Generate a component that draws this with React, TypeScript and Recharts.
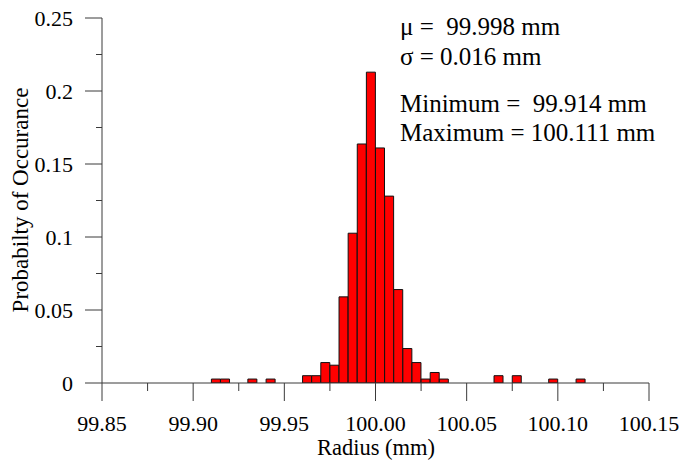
import React from 'react';
import { ComposedChart, Bar, XAxis, YAxis } from 'recharts';

// Histogram bin centres (bin width 0.005 mm) and probability of occurrence
const binCenters = [
  99.9125, 99.9175, 99.9325, 99.9425, 99.9625, 99.9675, 99.9725, 99.9775,
  99.9825, 99.9875, 99.9925, 99.9975, 100.0025, 100.0075, 100.0125, 100.0175,
  100.0225, 100.0275, 100.0325, 100.0375, 100.0675, 100.0775, 100.0975, 100.1125,
];
const probabilities = [
  0.0027, 0.0027, 0.0027, 0.0027, 0.005, 0.005, 0.014, 0.0122,
  0.059, 0.1026, 0.1637, 0.2129, 0.161, 0.128, 0.064, 0.0236,
  0.014, 0.0027, 0.0072, 0.0027, 0.005, 0.005, 0.0027, 0.0027,
];

const xTicks = [99.85, 99.875, 99.9, 99.925, 99.95, 99.975, 100, 100.025, 100.05, 100.075, 100.1, 100.125, 100.15];
const xTickLabels = ['99.85', '', '99.90', '', '99.95', '', '100.00', '', '100.05', '', '100.10', '', '100.15'];
const yTicks = [0, 0.025, 0.05, 0.075, 0.1, 0.125, 0.15, 0.175, 0.2, 0.225, 0.25];
const yTickLabels = ['0', '', '0.05', '', '0.1', '', '0.15', '', '0.2', '', '0.25'];

const statLines = ['μ =  99.998 mm', 'σ = 0.016 mm', 'Minimum =  99.914 mm', 'Maximum = 100.111 mm'];
const xTitle = 'Radius (mm)';
const yTitle = 'Probabilty of Occurance';

const data = binCenters.map((c, i) => ({ x: c, p: probabilities[i] }));

const FONT = '"Liberation Serif", "Times New Roman", serif';
const AXIS_COLOR = '#3a3a3a';

const findIndex = (arr: number[], v: number) => {
  let best = 0;
  for (let i = 0; i < arr.length; i++) {
    if (Math.abs(arr[i] - v) < Math.abs(arr[best] - v)) best = i;
  }
  return best;
};

const XTick = (props: any) => {
  const { x, y, payload } = props;
  const i = findIndex(xTicks, payload.value);
  const label = xTickLabels[i];
  const major = label !== '';
  return (
    <g>
      <line x1={x} x2={x} y1={y} y2={y + (major ? 18 : 8)} stroke={AXIS_COLOR} strokeWidth={1} />
      {major && (
        <text x={x} y={y + 48} textAnchor="middle" fontSize={22} fontFamily={FONT} fill="#000">
          {label}
        </text>
      )}
    </g>
  );
};

const YTick = (props: any) => {
  const { x, y, payload } = props;
  const i = findIndex(yTicks, payload.value);
  const label = yTickLabels[i];
  const major = label !== '';
  return (
    <g>
      <line x1={x - (major ? 17 : 6)} x2={x} y1={y} y2={y} stroke={AXIS_COLOR} strokeWidth={1} />
      {major && (
        <text x={x - 29} y={y + 7.5} textAnchor="end" fontSize={22} fontFamily={FONT} fill="#000">
          {label}
        </text>
      )}
    </g>
  );
};

export default function App() {
  return (
    <div style={{ position: 'absolute', left: 0, top: 0, width: 681, height: 462, background: '#fff' }}>
      <ComposedChart
        width={681}
        height={462}
        data={data}
        margin={{ top: 18, right: 32, bottom: 19, left: 0 }}
        barCategoryGap={0}
        barGap={0}
      >
        <XAxis
          dataKey="x"
          type="number"
          domain={[99.85, 100.15]}
          ticks={xTicks}
          interval={0}
          allowDataOverflow
          height={60}
          tickSize={0}
          tickMargin={0}
          tickLine={false}
          tick={<XTick />}
          axisLine={{ stroke: AXIS_COLOR, strokeWidth: 1 }}
        />
        <YAxis
          type="number"
          domain={[0, 0.25]}
          ticks={yTicks}
          interval={0}
          allowDataOverflow
          width={102}
          tickSize={0}
          tickMargin={0}
          tickLine={false}
          tick={<YTick />}
          axisLine={{ stroke: AXIS_COLOR, strokeWidth: 1 }}
        />
        <Bar dataKey="p" fill="#ff0000" stroke="#111" strokeWidth={1} isAnimationActive={false} />
      </ComposedChart>
      <svg
        width={681}
        height={462}
        style={{ position: 'absolute', left: 0, top: 0, pointerEvents: 'none' }}
      >
        {statLines.map((t, i) => (
          <text
            key={i}
            x={400}
            y={[35, 65, 112, 141][i]}
            fontSize={25}
            fontFamily={FONT}
            fill="#000"
            style={{ whiteSpace: 'pre' }}
          >
            {t}
          </text>
        ))}
        <text x={376} y={455} textAnchor="middle" fontSize={22.5} fontFamily={FONT} fill="#000">
          {xTitle}
        </text>
        <text
          x={0}
          y={0}
          transform="translate(28,200) rotate(-90)"
          textAnchor="middle"
          fontSize={23}
          fontFamily={FONT}
          fill="#000"
        >
          {yTitle}
        </text>
      </svg>
    </div>
  );
}
